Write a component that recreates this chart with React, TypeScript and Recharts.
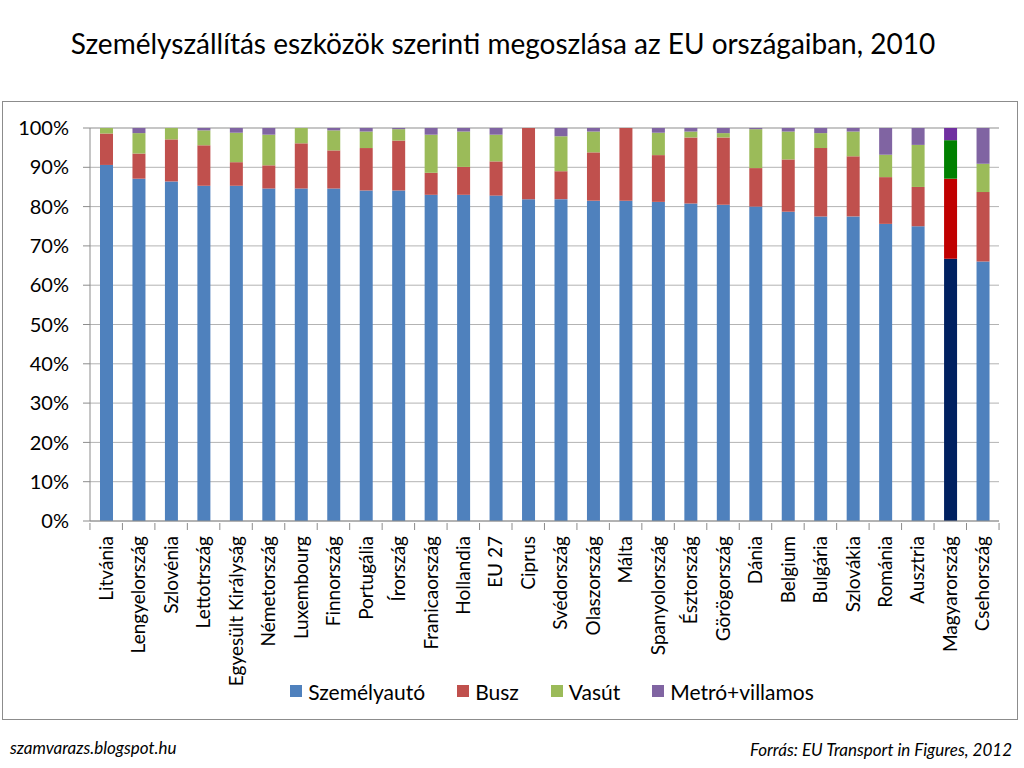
import React from 'react';
import { BarChart, Bar, XAxis, YAxis, CartesianGrid, Legend, Cell } from 'recharts';

const countries = [
  'Litvánia', 'Lengyelország', 'Szlovénia', 'Lettotrszág', 'Egyesült Királyság', 'Németország',
  'Luxembourg', 'Finnország', 'Portugália', 'Írország', 'Franicaország', 'Hollandia', 'EU 27',
  'Ciprus', 'Svédország', 'Olaszország', 'Málta', 'Spanyolország', 'Észtország', 'Görögország',
  'Dánia', 'Belgium', 'Bulgária', 'Szlovákia', 'Románia', 'Ausztria', 'Magyarország', 'Csehország',
];

const car = [90.6, 87.1, 86.4, 85.3, 85.3, 84.6, 84.6, 84.6, 84.1, 84.1, 83.0, 83.0, 82.8, 81.9, 81.9, 81.5, 81.5, 81.2, 80.8, 80.5, 80.0, 78.7, 77.5, 77.5, 75.6, 75.0, 66.7, 66.0];
const bus = [8.0, 6.4, 10.7, 10.3, 6.0, 5.9, 11.5, 9.7, 10.8, 12.7, 5.6, 7.1, 8.7, 18.1, 7.1, 12.3, 18.5, 11.9, 16.8, 17.1, 9.8, 13.3, 17.4, 15.3, 11.9, 10.0, 20.4, 17.7];
const rail = [1.4, 5.2, 2.9, 3.8, 7.5, 7.8, 3.9, 5.1, 4.2, 2.9, 9.7, 9.0, 6.8, 0, 8.9, 5.3, 0, 5.7, 1.5, 1.1, 9.9, 7.1, 3.8, 6.3, 5.7, 10.7, 9.8, 7.2];
const metro = [0, 1.3, 0, 0.6, 1.2, 1.7, 0, 0.6, 0.9, 0.3, 1.7, 0.9, 1.7, 0, 2.1, 0.9, 0, 1.2, 0.9, 1.3, 0.3, 0.9, 1.3, 0.9, 6.8, 4.3, 3.1, 9.1];

const yTicks = [0, 10, 20, 30, 40, 50, 60, 70, 80, 90, 100];
const highlighted = 'Magyarország';

const series = [
  { key: 'car', name: 'Személyautó', color: '#4F81BD', strong: '#002060' },
  { key: 'bus', name: 'Busz', color: '#C0504D', strong: '#C00000' },
  { key: 'rail', name: 'Vasút', color: '#9BBB59', strong: '#008000' },
  { key: 'metro', name: 'Metró+villamos', color: '#8064A2', strong: '#7030A0' },
];

const data = countries.map((name, i) => ({
  name,
  car: car[i],
  bus: bus[i],
  rail: rail[i],
  metro: metro[i],
}));

const FONT = 'Lato, "Open Sans", sans-serif';
const CHART_W = 1016;
const CHART_H = 619;
const MARGIN = { top: 26, right: 18, left: 0, bottom: 13 };
const Y_W = 87;
const BAND = (CHART_W - MARGIN.left - MARGIN.right - Y_W) / countries.length;

// category labels read bottom-to-top, with tick marks on the band edges like Excel
const CategoryTick = (props: any) => {
  const { x, y, payload, index } = props;
  return (
    <g>
      <line x1={x - BAND / 2} x2={x - BAND / 2} y1={y} y2={y + 7} stroke="#8c8c8c" />
      {index === countries.length - 1 && (
        <line x1={x + BAND / 2} x2={x + BAND / 2} y1={y} y2={y + 7} stroke="#8c8c8c" />
      )}
      <text
        transform={`translate(${x},${y + 13}) rotate(-90)`}
        textAnchor="end"
        dy="0.35em"
        fontSize={19}
        fontFamily={FONT}
        fill="#000"
      >
        {payload.value}
      </text>
    </g>
  );
};

const LegendContent = () => (
  <div style={{ display: 'flex', justifyContent: 'center', paddingLeft: 102, height: 30, alignItems: 'center' }}>
    {series.map((s, i) => (
      <div key={s.key} style={{ display: 'flex', alignItems: 'center', marginRight: i < series.length - 1 ? 32 : 0 }}>
        <span style={{ width: 12, height: 12, background: s.color, display: 'inline-block', marginRight: 6 }} />
        <span style={{ fontSize: 21, fontFamily: FONT, color: '#000' }}>{s.name}</span>
      </div>
    ))}
  </div>
);

const App: React.FC = () => {
  return (
    <div style={{ position: 'absolute', left: 0, top: 0, width: 1024, height: 768, background: '#fff', fontFamily: FONT }}>
      <div style={{ position: 'absolute', top: 26, left: 0, width: 1006, textAlign: 'center', fontSize: 28, color: '#000' }}>
        Személyszállítás eszközök szerinti megoszlása az EU országaiban, 2010
      </div>
      <div style={{ position: 'absolute', left: 2, top: 101, width: CHART_W, height: CHART_H, border: '1px solid #8c8c8c', boxSizing: 'border-box' }}>
        <BarChart width={CHART_W - 2} height={CHART_H - 2} data={data} margin={MARGIN} barSize={13}>
          <CartesianGrid vertical={false} stroke="#b3b3b3" />
          <XAxis
            dataKey="name"
            interval={0}
            height={155}
            tickLine={false}
            tickSize={0}
            tick={<CategoryTick />}
            axisLine={{ stroke: '#8c8c8c' }}
          />
          <YAxis
            width={Y_W}
            domain={[0, 100]}
            ticks={yTicks}
            tickFormatter={(v: number) => `${v}%`}
            tickSize={7}
            tickMargin={14}
            tickLine={{ stroke: '#8c8c8c' }}
            axisLine={{ stroke: '#8c8c8c' }}
            tick={{ fontSize: 20, fontFamily: FONT, fill: '#000' }}
          />
          <Legend verticalAlign="bottom" content={<LegendContent />} wrapperStyle={{ height: 30 }} />
          {series.map(s => (
            <Bar key={s.key} dataKey={s.key} name={s.name} stackId="a" fill={s.color} isAnimationActive={false}>
              {data.map(d => (
                <Cell key={d.name} fill={d.name === highlighted ? s.strong : s.color} />
              ))}
            </Bar>
          ))}
        </BarChart>
      </div>
      <div style={{ position: 'absolute', left: 10, top: 737, fontSize: 17, fontStyle: 'italic', color: '#000' }}>
        szamvarazs.blogspot.hu
      </div>
      <div style={{ position: 'absolute', right: 12, top: 739, fontSize: 17, fontStyle: 'italic', color: '#000' }}>
        Forrás: EU Transport in Figures, 2012
      </div>
    </div>
  );
};

export default App;
